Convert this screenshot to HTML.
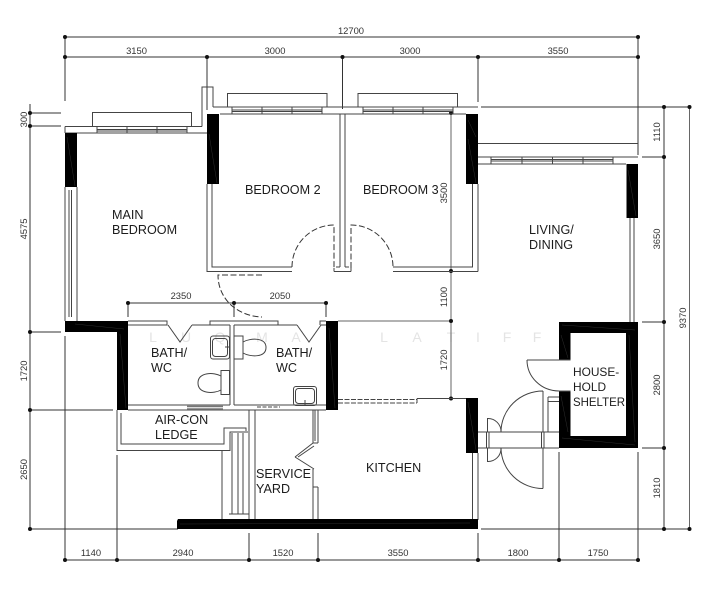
<!DOCTYPE html>
<html><head><meta charset="utf-8"><style>
html,body{margin:0;padding:0;background:#fff}
svg{display:block}
text{font-family:"Liberation Sans",sans-serif}
.r{font-size:12.6px;fill:#1c1c1c}
.s{font-size:11.9px;fill:#1c1c1c}
.d{font-size:9.4px;fill:#333}
.w{font-size:14px;fill:#e4e4e4}
</style></head><body>
<svg width="713" height="600" viewBox="0 0 713 600" xmlns="http://www.w3.org/2000/svg">
<rect width="713" height="600" fill="#fff"/>
<!-- watermark -->
<g class="w" text-anchor="middle">
<text x="153" y="342">L</text><text x="186" y="342">U</text><text x="220" y="342">Q</text><text x="262" y="342">M</text><text x="296" y="342">A</text><text x="330" y="342">N</text><text x="384" y="342">L</text><text x="417" y="342">A</text><text x="451" y="342">T</text><text x="478" y="342">I</text><text x="507" y="342">F</text><text x="537" y="342">F</text>
</g>
<!-- dimension lines -->
<g stroke="#333" stroke-width="1" fill="none">
<path d="M65 37H638M65 57H638M65 37V101M207 57V110M342.500 57V109M478 57V102M638 37V155"/>
<path d="M30 104V529M30 113H61M30 126H61M30 332H61M30 410H113M30 529H178"/>
<path d="M65 560H638M65 336V560M117 455V560M249 533V560M318 533V560M478 533V560M559 452V560M638 452V560"/>
<path d="M664 107V529M642 157H664M642 322H664M642 448H664M481 107H690M481 529H690"/>
<path d="M128 303H326M128 303V317M234 303V317M326 303V317"/>
</g>
<path d="M689.500 107V529M451 113V398M338 321H451" stroke="#666" stroke-width="1" fill="none"/>
<g fill="#111">
<circle cx="65" cy="37" r="2"/><circle cx="638" cy="37" r="2"/>
<circle cx="65" cy="57" r="2"/><circle cx="207" cy="57" r="2"/><circle cx="342.500" cy="57" r="2"/><circle cx="478" cy="57" r="2"/><circle cx="638" cy="57" r="2"/>
<circle cx="30" cy="113" r="2"/><circle cx="30" cy="126" r="2"/><circle cx="30" cy="332" r="2"/><circle cx="30" cy="410" r="2"/><circle cx="30" cy="529" r="2"/>
<circle cx="65" cy="560" r="2"/><circle cx="117" cy="560" r="2"/><circle cx="249" cy="560" r="2"/><circle cx="318" cy="560" r="2"/><circle cx="478" cy="560" r="2"/><circle cx="559" cy="560" r="2"/><circle cx="638" cy="560" r="2"/>
<circle cx="664" cy="107" r="2"/><circle cx="664" cy="157" r="2"/><circle cx="664" cy="322" r="2"/><circle cx="664" cy="448" r="2"/><circle cx="664" cy="529" r="2"/>
<circle cx="689.500" cy="107" r="2"/><circle cx="689.500" cy="529" r="2"/>
<circle cx="451" cy="113" r="2"/><circle cx="451" cy="271" r="2"/><circle cx="451" cy="321" r="2"/><circle cx="451" cy="398.500" r="2"/>
<circle cx="128" cy="303" r="2"/><circle cx="234" cy="303" r="2"/><circle cx="326" cy="303" r="2"/>
</g>
<!-- thin walls -->
<g stroke="#444" stroke-width="1" fill="none">
<path d="M65 126.500H202M65 133H207M65 126.500V133M202 126.500V87H213V107M213 107H478M220 114H466"/>
<path d="M92.500 126V112.500H191.500V126M227.500 107V93.500H327V107M358 107V93.500H457.500V107"/>
<path d="M97 127V133M127 127V133M157 127V133M187 127V133M232 107V114M262 107V114M292 107V114M322 107V114M363 107V114M393 107V114M423 107V114M453 107V114"/>
<path d="M97 129.500H187M97 131H187M232 110H322M232 111.500H322M363 110H453M363 111.500H453"/>
<path d="M65 187V321M77 187V321M69 190V317M71.500 190V317"/>
<path d="M207 184V271.500H292M212 184V267H292"/>
<path d="M340 114V267M345 114V267M334 271.500H351M334 268V271.500M351 268V271.500M340 267H336M345 267H349"/>
<path d="M393 267H473M393 271.500H478M472.500 184V267M478 184V271.500"/>
<path d="M478 143.500H638M478 157H638M478 164H626M491 157V164M522 157V164M552.500 157V164M583 157V164M613 157V164M491 159.500H613M491 161H613"/>
<path d="M630 218V322M634 218V322"/>
<path d="M128 321H167V325H128M210 325V321H278V325M320 325V321H326M192 325H230M234 325H278V325H297M321 325H326"/>
<path d="M230 325V405M234 325V405M128 405H230M234 405H326M128 410H326"/>
<path d="M168 325L180 342L192 325M297 325L309 342L321 325"/>
<rect x="210.500" y="336" width="19" height="23" rx="2.500"/>
<rect x="212.500" y="338.500" width="15" height="18" rx="3"/>
<rect x="234" y="336" width="9" height="23"/>
<path d="M243 342C250 338 266 337 266 347.500C266 358 250 357 243 353"/>
<rect x="221" y="370.500" width="8.500" height="24"/>
<path d="M221 376C214 372 198 372 198 383C198 394 214 394 221 390"/>
<rect x="293.500" y="386.500" width="23" height="19" rx="2.500"/>
<rect x="295.500" y="388.500" width="19" height="15" rx="3"/>
<path d="M225 347H229M305 400V405"/>
<path d="M117 410V450.500H230V432H248"/>
<path d="M121 413V444H224V428H246V431"/>
<path d="M222 450V520M232 433V514M238 433V514M243 433V514M249 410V520M255 410V520M229 514H249"/>
<path d="M318 410V443M313 410V443M315 410V441M313 443H318M313 410H318M295 457L313 443M298 457L314 446M295 457L314 469M313 469V520M318 487V520M313 487H318"/>
<path d="M417 398.500H466M417 398.500V403"/>
<path d="M472.500 453V520M478 453V520"/>
<path d="M478 432H559M478 448H559M548 397V432M548 397H559M548 401.500H559"/>
<path d="M527 360H559M527 360A32 31 0 0 0 559 391M559 360H570.500M559 391H570.500"/>
<path d="M543 391V432M543 448V488.500M543 391A42 41 0 0 0 501 432M501 448A42 41 0 0 0 543 488.500"/>
<path d="M487.500 418V432M487.500 448V462M487.500 418.500A13 13 0 0 1 501 432M487.500 461.500A13 13 0 0 0 501 448"/>
<rect x="486.500" y="432" width="2.500" height="16"/><rect x="541.500" y="432" width="2.500" height="16"/>
</g>
<path d="M187 406.500H223M187 409H223" stroke="#777" stroke-width="1.500" fill="none"/>
<path d="M257 407H280" stroke="#444" stroke-width="1" stroke-dasharray="4 1.500" fill="none"/>
<path d="M338 399.500H417M338 403H417" stroke="#444" stroke-width="1" stroke-dasharray="5 1.500" fill="none"/>
<!-- dashed doors -->
<g stroke="#333" stroke-width="1" fill="none" stroke-dasharray="6 2.500">
<path d="M292 267A42 42 0 0 1 334 225V268"/>
<path d="M351 268V225A42 42 0 0 1 393 267"/>
<path d="M262 275H218C218 298 236 316 262 317"/>
</g>
<!-- black walls -->
<g fill="#000">
<rect x="65" y="133" width="12" height="54"/>
<rect x="207" y="114" width="12" height="70"/>
<rect x="466" y="114" width="12" height="70"/>
<rect x="626.500" y="164" width="11.500" height="54"/>
<path d="M65 321H128V410H117V332H65Z"/>
<rect x="326" y="321" width="12" height="89"/>
<rect x="466" y="398" width="12" height="55"/>
<path d="M177 521L178 519H478V529H177Z"/>
<path d="M559 322H638V448H559V391H570.500V436H626V333H570.500V360H559Z"/>
</g>
<!-- faint hatch traces inside the black walls -->
<g stroke="#2e2e2e" stroke-width=".5" fill="none">
<path d="M67 137L75 186M209 134L217 183M468 120L476 137M468 139L476 183M628 170L636 216"/>
<path d="M75 324L124 329M120 334L126 408M329 328L335 408M468 402L476 450M180 524L470 523"/>
<path d="M562 325L635 330M561 335L568 358M629 335L635 442M561 396L568 432M562 438L635 445"/>
</g>
<rect x="570.500" y="333" width="55.500" height="103" fill="#fff"/>
<rect x="559" y="360" width="11.500" height="31" fill="#fff"/>
<path d="M559 360H570.500M559 391H570.500" stroke="#555" stroke-width="1"/>
<!-- labels -->
<g class="r">
<text x="245" y="194">BEDROOM 2</text>
<text x="363" y="194">BEDROOM 3</text>
<text x="112" y="219">MAIN</text><text x="112" y="234">BEDROOM</text>
<text x="529" y="234">LIVING/</text><text x="529" y="249">DINING</text>
<text x="151" y="357">BATH/</text><text x="151" y="372">WC</text>
<text x="276" y="357">BATH/</text><text x="276" y="372">WC</text>
<text x="155" y="424">AIR-CON</text><text x="155" y="439">LEDGE</text>
<text x="256" y="478">SERVICE</text><text x="256" y="493">YARD</text>
<text x="366" y="472">KITCHEN</text>
</g>
<g class="s">
<text x="573" y="376">HOUSE-</text><text x="573" y="391">HOLD</text><text x="573" y="406" textLength="52" lengthAdjust="spacingAndGlyphs">SHELTER</text>
</g>
<g class="d" text-anchor="middle">
<text x="351" y="34">12700</text>
<text x="136.500" y="54">3150</text><text x="275" y="54">3000</text><text x="410" y="54">3000</text><text x="558" y="54">3550</text>
<text x="181" y="299">2350</text><text x="280" y="299">2050</text>
<text x="91" y="556">1140</text><text x="183" y="556">2940</text><text x="283" y="556">1520</text><text x="398" y="556">3550</text><text x="518" y="556">1800</text><text x="598" y="556">1750</text>
<text transform="translate(27 119.500) rotate(-90)">300</text>
<text transform="translate(27 229) rotate(-90)">4575</text>
<text transform="translate(27 371) rotate(-90)">1720</text>
<text transform="translate(27 469.500) rotate(-90)">2650</text>
<text transform="translate(447 193) rotate(-90)">3500</text>
<text transform="translate(447 297) rotate(-90)">1100</text>
<text transform="translate(447 360) rotate(-90)">1720</text>
<text transform="translate(660 132) rotate(-90)">1110</text>
<text transform="translate(660 239) rotate(-90)">3650</text>
<text transform="translate(660 385) rotate(-90)">2800</text>
<text transform="translate(660 488) rotate(-90)">1810</text>
<text transform="translate(686 318) rotate(-90)">9370</text>
</g>
</svg>
</body></html>
